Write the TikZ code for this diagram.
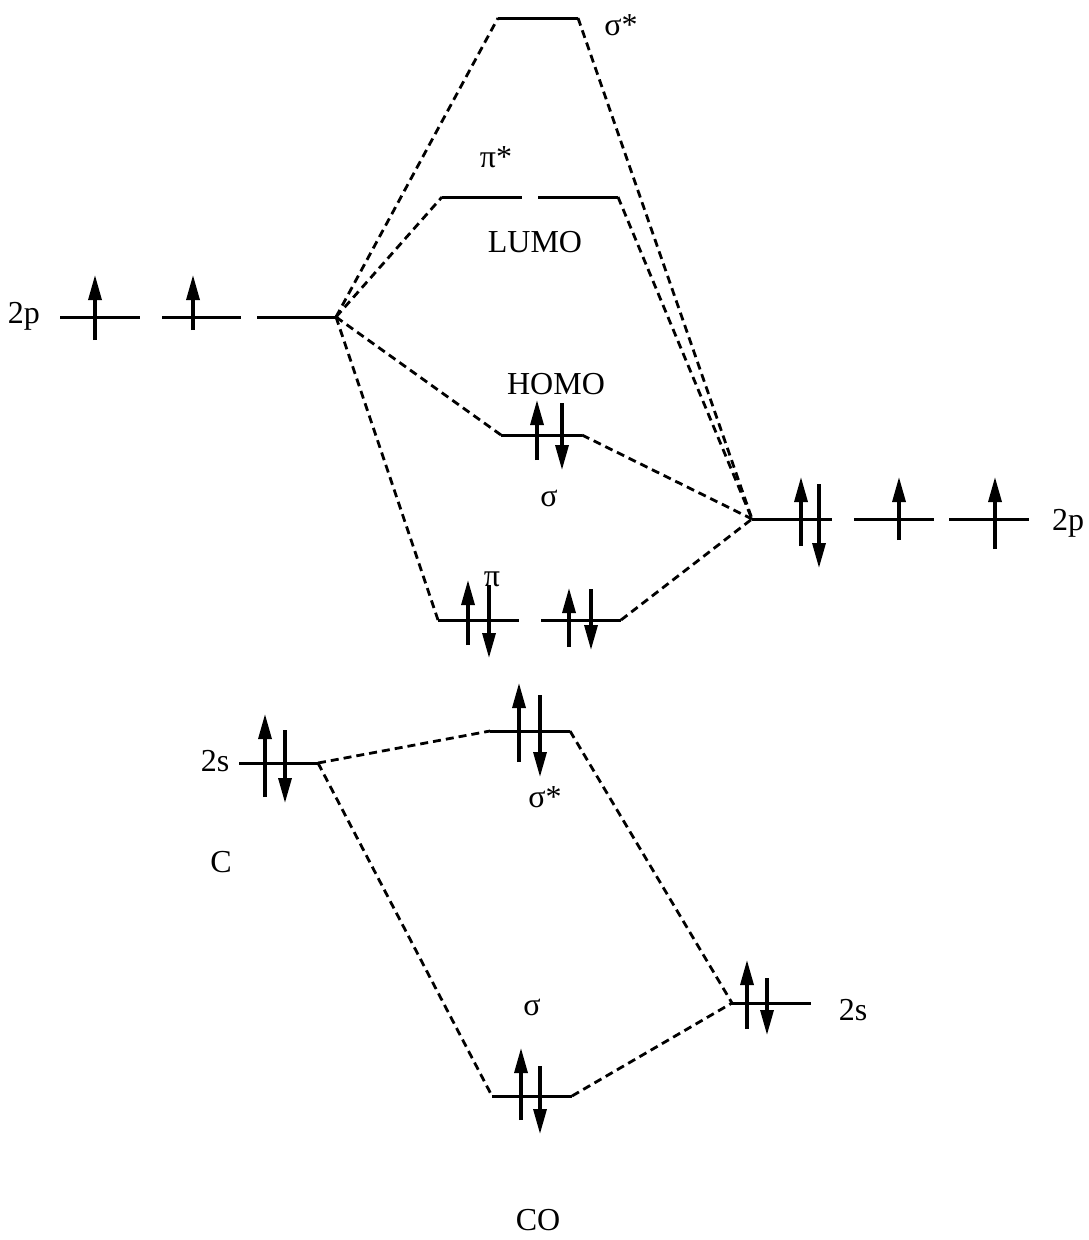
\documentclass[tikz,border=0pt]{standalone}
\usepackage{fontspec}
\setmainfont{Liberation Serif}
\usetikzlibrary{arrows.meta}
\tikzset{
  lvl/.style={line width=3pt},
  corr/.style={line width=2.8pt, dash pattern=on 8pt off 5pt},
  spin/.style={line width=3.3pt, -{Triangle[length=25pt,width=13pt]}},
  lbl/.style={anchor=base, inner sep=0pt, font=\fontsize{32}{38}\selectfont}
}
\begin{document}
\begin{tikzpicture}[x=1pt,y=-1pt]
\useasboundingbox (0,0) rectangle (1088,1240);
% ---------- level coordinates ----------
\foreach \n/\xl/\xr/\y in {
  cpa/60/140/317, cpb/162/241/317, cpc/257/336/317,
  ssu/498/578/18,
  ppa/442/522/197, ppb/538/618/197,
  sho/501/582/435,
  pia/438/519/620, pib/541/621/620,
  opa/752/832/519, opb/854/934/519, opc/949/1029/519,
  cs/239/318/763,
  sst/490/570/731,
  os/732/811/1003,
  sb/492/572/1096}{
  \coordinate (\n L) at (\xl,\y);
  \coordinate (\n R) at (\xr,\y);
  \draw[lvl] (\n L) -- (\n R);
}
% ---------- correlation lines ----------
\draw[corr] (cpcR) -- (ssuL);
\draw[corr] (cpcR) -- (ppaL);
\draw[corr] (cpcR) -- (shoL);
\draw[corr] (cpcR) -- (piaL);
\draw[corr] (ssuR) -- (opaL);
\draw[corr] (ppbR) -- (opaL);
\draw[corr] (shoR) -- (opaL);
\draw[corr] (pibR) -- (opaL);
\draw[corr] (csR) -- (sstL);
\draw[corr] (csR) -- (sbL);
\draw[corr] (sstR) -- (osL);
\draw[corr] (sbR) -- (osL);
% ---------- electrons ----------
\foreach \x/\ya/\yb in {
  95/340/275, 193/330/275,
  537/460/400, 562/403/470,
  468/645/580, 489/585/658,
  569/647/588, 591/589/650,
  801/546/477, 819/484/568, 899/540/477, 995/549/477,
  265/797/714, 285/730/803,
  519/762/683, 540/695/777,
  747/1029/960, 767/978/1035,
  521/1120/1048, 540/1066/1134}{
  \draw[spin] (\x,\ya) -- (\x,\yb);
}
% ---------- labels ----------
\node[lbl] (l2pC) at (24,323) {2p};
\node[lbl] (l2pO) at (1068,530) {2p};
\node[lbl] (lssu) at (621,35) {σ*};
\node[lbl] (lpp) at (496,167) {π*};
\node[lbl] (llumo) at (535,252) {LUMO};
\node[lbl] (lhomo) at (556,394) {HOMO};
\node[lbl] (lsho) at (549,506) {σ};
\node[lbl] (lpi) at (492,586) {π};
\node[lbl] (l2sC) at (215,771) {2s};
\node[lbl] (lsst) at (545,807) {σ*};
\node[lbl] (lC) at (221,872) {C};
\node[lbl] (l2sO) at (853,1020) {2s};
\node[lbl] (lsb) at (532,1015) {σ};
\node[lbl] (lCO) at (538,1230) {CO};
\end{tikzpicture}
\end{document}
